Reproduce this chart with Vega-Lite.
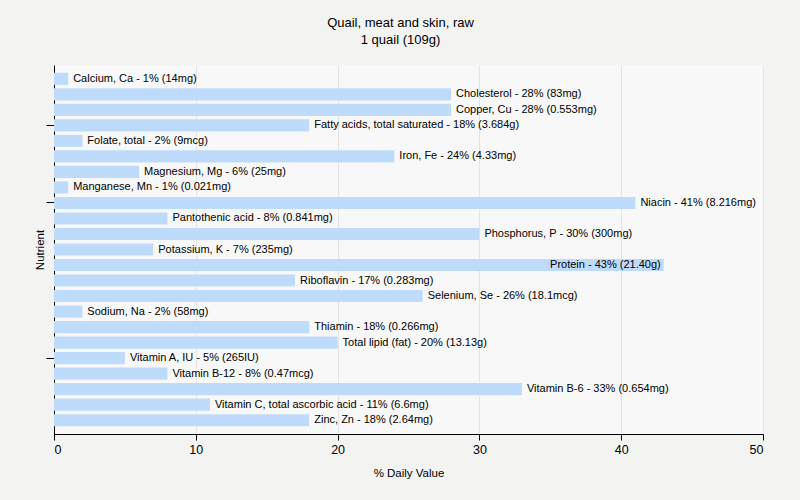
{
  "$schema": "https://vega.github.io/schema/vega-lite/v6.json",
  "autosize": "none",
  "width": 709,
  "height": 369,
  "padding": {"left": 54, "top": 65, "right": 37, "bottom": 66},
  "background": "#f3f3f2",
  "config": {"view": {"fill": "#f8f8f8", "stroke": null}, "font": "Liberation Sans"},
  "title": {"text": "Quail, meat and skin, raw", "subtitle": "1 quail (109g)", "fontSize": 13, "fontWeight": "normal", "subtitleFontSize": 13, "color": "#000", "subtitleColor": "#000", "offset": 18, "dx": -8, "subtitlePadding": 4, "font": "Liberation Sans", "subtitleFont": "Liberation Sans"},
  "data": {"values": [
    {"nutrient": "Calcium, Ca", "dv": 1, "label": "Calcium, Ca - 1% (14mg)"},
    {"nutrient": "Cholesterol", "dv": 28, "label": "Cholesterol - 28% (83mg)"},
    {"nutrient": "Copper, Cu", "dv": 28, "label": "Copper, Cu - 28% (0.553mg)"},
    {"nutrient": "Fatty acids, total saturated", "dv": 18, "label": "Fatty acids, total saturated - 18% (3.684g)"},
    {"nutrient": "Folate, total", "dv": 2, "label": "Folate, total - 2% (9mcg)"},
    {"nutrient": "Iron, Fe", "dv": 24, "label": "Iron, Fe - 24% (4.33mg)"},
    {"nutrient": "Magnesium, Mg", "dv": 6, "label": "Magnesium, Mg - 6% (25mg)"},
    {"nutrient": "Manganese, Mn", "dv": 1, "label": "Manganese, Mn - 1% (0.021mg)"},
    {"nutrient": "Niacin", "dv": 41, "label": "Niacin - 41% (8.216mg)"},
    {"nutrient": "Pantothenic acid", "dv": 8, "label": "Pantothenic acid - 8% (0.841mg)"},
    {"nutrient": "Phosphorus, P", "dv": 30, "label": "Phosphorus, P - 30% (300mg)"},
    {"nutrient": "Potassium, K", "dv": 7, "label": "Potassium, K - 7% (235mg)"},
    {"nutrient": "Protein", "dv": 43, "label": "Protein - 43% (21.40g)"},
    {"nutrient": "Riboflavin", "dv": 17, "label": "Riboflavin - 17% (0.283mg)"},
    {"nutrient": "Selenium, Se", "dv": 26, "label": "Selenium, Se - 26% (18.1mcg)"},
    {"nutrient": "Sodium, Na", "dv": 2, "label": "Sodium, Na - 2% (58mg)"},
    {"nutrient": "Thiamin", "dv": 18, "label": "Thiamin - 18% (0.266mg)"},
    {"nutrient": "Total lipid (fat)", "dv": 20, "label": "Total lipid (fat) - 20% (13.13g)"},
    {"nutrient": "Vitamin A, IU", "dv": 5, "label": "Vitamin A, IU - 5% (265IU)"},
    {"nutrient": "Vitamin B-12", "dv": 8, "label": "Vitamin B-12 - 8% (0.47mcg)"},
    {"nutrient": "Vitamin B-6", "dv": 33, "label": "Vitamin B-6 - 33% (0.654mg)"},
    {"nutrient": "Vitamin C, total ascorbic acid", "dv": 11, "label": "Vitamin C, total ascorbic acid - 11% (6.6mg)"},
    {"nutrient": "Zinc, Zn", "dv": 18, "label": "Zinc, Zn - 18% (2.64mg)"}
  ]},
  "encoding": {
    "y": {"field": "nutrient", "type": "nominal", "sort": null, "scale": {"paddingInner": 0.22, "paddingOuter": 0.5},
      "axis": {"title": "Nutrient", "titleFontSize": 11.5, "titleFontWeight": "normal", "titleColor": "#000", "titlePadding": 0, "labels": false, "values": ["Fatty acids, total saturated", "Niacin", "Vitamin A, IU"], "tickColor": "#000", "tickSize": 8, "domainColor": "#000", "grid": false}},
    "x": {"field": "dv", "type": "quantitative", "scale": {"domain": [0, 50], "nice": false},
      "axis": {"title": "% Daily Value", "titleFontSize": 11.5, "titleFontWeight": "normal", "titleColor": "#000", "titlePadding": 12, "values": [0, 10, 20, 30, 40, 50], "labelFontSize": 12.5, "labelColor": "#000", "tickColor": "#000", "tickSize": 6, "domainColor": "#000", "gridColor": "#e4e4e4", "labelPadding": 3}}
  },
  "layer": [
    {"mark": {"type": "bar", "color": "#bfdbfc"}},
    {"transform": [{"filter": "datum.dv < 40 || datum.nutrient == 'Niacin'"}],
     "mark": {"type": "text", "align": "left", "dx": 5, "fontSize": 11, "color": "#000"},
     "encoding": {"text": {"field": "label"}}},
    {"transform": [{"filter": "datum.nutrient == 'Protein'"}],
     "mark": {"type": "text", "align": "right", "dx": -3, "fontSize": 11, "color": "#000"},
     "encoding": {"text": {"field": "label"}}}
  ]
}
